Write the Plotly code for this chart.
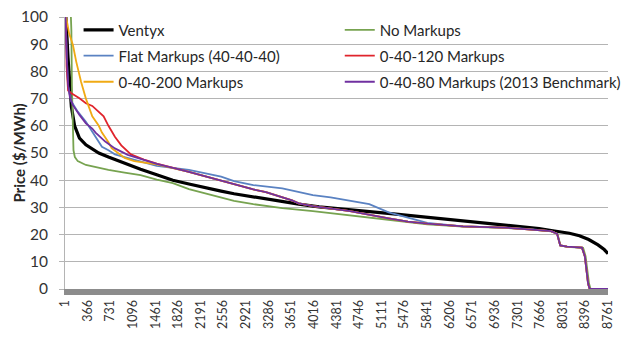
import plotly.graph_objects as go

# Hour of the year (sorted by price, highest first) and price in $/MWh
hours_ventyx = [1, 15, 50, 80, 104, 156, 234, 338, 441, 546, 702, 962, 1220, 1481, 1741,
                2000, 2260, 2520, 2728, 3039, 3400, 3772, 4100, 4500, 4900, 5300, 5700,
                6100, 6500, 6936, 7300, 7650, 7871, 8138, 8300, 8450, 8600, 8700, 8761]
price_ventyx = [130, 100, 85, 75, 67, 60, 55.5, 53, 51.5, 50, 48.5, 46.2, 44, 42, 40,
                38.6, 37.2, 36, 35, 33.8, 32.4, 31.2, 30.2, 29.4, 28.5, 27.6, 26.7,
                25.8, 25.0, 24.0, 23.2, 22.2, 21.4, 20.5, 19.6, 18.2, 16.2, 14.5, 13]

hours_none = [1, 95, 104, 112, 122, 138, 160, 207, 338, 546, 702, 962, 1220, 1481, 1741,
              2000, 2260, 2520, 2728, 3039, 3507, 4000, 4500, 4910, 5222, 5533, 5845,
              6422, 7092, 7500, 7843, 7945, 7970, 7995, 8100, 8360, 8400, 8430, 8455,
              8480, 8761]
price_none = [160, 104, 95, 75, 58, 51, 48.5, 47, 45.6, 44.5, 43.8, 42.8, 41.9, 40.2, 38.9,
              36.7, 35.2, 33.5, 32.4, 31.2, 29.7, 28.6, 27.3, 26.3, 25.4, 24.5, 23.8,
              22.9, 22.5, 21.9, 21.2, 20.3, 18.5, 16, 15.5, 15.1, 12, 6, 2,
              0, 0]

hours_flat = [1, 10, 30, 51, 104, 207, 338, 441, 546, 597, 702, 806, 962, 1220, 1481,
              2000, 2520, 2728, 3039, 3507, 4000, 4286, 4910, 5222, 5533, 5845, 6422,
              7092, 7500, 7843, 7940, 7965, 7990, 8100, 8341, 8388, 8419, 8440, 8465, 8761]
price_flat = [130, 100, 85, 74.4, 68.9, 65.2, 61.5, 58, 54.5, 52.3, 51, 49.5, 48.5, 46.8, 45.3,
              43.8, 41.3, 39.7, 38.2, 37, 34.5, 33.7, 31.2, 28.2, 26.2, 24.3, 23.0,
              22.6, 22, 21.3, 20.3, 18.5, 16, 15.6, 15.2, 12, 6, 2, 0, 0]

# Shared lower part of the markup scenarios (they run together past ~2000 h)
hours_shared = [2000, 2520, 2728, 3039, 3242, 3663, 3772, 4000, 4286, 4600, 5222, 5533,
                5845, 6422, 7092, 7500, 7843, 7940, 7965, 7990, 8100, 8341, 8388, 8419,
                8440, 8465, 8761]
price_shared = [43.1, 40, 38.6, 36.6, 35.6, 32.6, 31.5, 30.5, 29.7, 28.6, 26, 24.8,
                24.0, 23.0, 22.6, 22, 21.3, 20.3, 18.5, 16, 15.6, 15.2, 12, 6,
                2, 0, 0]

hours_120_top = [1, 10, 26, 51, 104, 234, 338, 441, 546, 624, 702, 806, 909, 1065, 1274, 1481]
price_120_top = [130, 100, 82, 73, 72, 70.1, 68.3, 67.3, 65, 63.5, 60, 56, 52.8, 49.5, 47.6, 46.1]

hours_200_top = [1, 20, 67, 129, 182, 260, 338, 441, 546, 597, 702, 753, 857, 962, 1118, 1481]
price_200_top = [130, 100, 94, 89.7, 83.6, 76.2, 70, 63.5, 60, 57.5, 54, 51.8, 50, 48.2, 47, 45.8]

hours_80_top = [1, 10, 30, 51, 80, 129, 234, 338, 441, 494, 650, 806, 1013, 1274, 1481]
price_80_top = [130, 100, 85, 75, 70.5, 67.6, 64, 60.9, 59, 57.5, 54.2, 51.7, 49.3, 47.5, 46]

tick_hours = list(range(1, 8762, 365))
tick_labels = [str(h) for h in tick_hours]

series = [
    ("Ventyx", hours_ventyx, price_ventyx, "#000000", 3.2),
    ("No Markups", hours_none, price_none, "#77a350", 1.8),
    ("Flat Markups (40-40-40)", hours_flat, price_flat, "#5a82c2", 1.8),
    ("0-40-120 Markups", hours_120_top + hours_shared, price_120_top + price_shared, "#e0242c", 1.8),
    ("0-40-200 Markups", hours_200_top + hours_shared, price_200_top + price_shared, "#f0aa14", 1.8),
    ("0-40-80 Markups (2013 Benchmark)", hours_80_top + hours_shared, price_80_top + price_shared, "#7030a0", 1.8),
]

# Legend slots: two columns, three rows
legend_slots = [(0.025, 0.952), (0.506, 0.952),
                (0.025, 0.857), (0.506, 0.857),
                (0.025, 0.761), (0.506, 0.761)]

fig = go.Figure()
layout_legends = {}
for i, (name, hx, py, color, width) in enumerate(series):
    key = "legend" if i == 0 else f"legend{i + 1}"
    fig.add_trace(go.Scatter(x=hx, y=py, mode="lines", name=name,
                             line=dict(color=color, width=width),
                             legend=key))
    lx, ly = legend_slots[i]
    layout_legends[key] = dict(x=lx, y=ly, xanchor="left", yanchor="middle",
                               bgcolor="rgba(0,0,0,0)", borderwidth=0,
                               font=dict(family="Lato", size=15, color="#262626"))

fig.update_layout(
    width=631, height=337,
    margin=dict(l=65, r=5, t=17, b=48),
    plot_bgcolor="white", paper_bgcolor="white",
    font=dict(family="Lato", color="#333333", size=14),
    showlegend=True,
    **layout_legends,
)

# Vertical axis title, placed as rotated text left of the tick labels
fig.add_annotation(text="<b>Price ($/MWh)</b>", xref="paper", yref="paper",
                   x=(17 - 65) / 561, y=0.5, xanchor="center", yanchor="middle",
                   textangle=-90, showarrow=False,
                   font=dict(family="Lato", size=15, color="#262626"))

fig.update_xaxes(range=[1, 8761], tickvals=tick_hours, ticktext=tick_labels,
                 tickangle=-90, showgrid=False, zeroline=False,
                 showline=True, linecolor="#8c8c8c", linewidth=6,
                 ticks="", ticklabeloverflow="allow",
                 tickfont=dict(size=12.5, color="#333333"))
fig.update_yaxes(range=[0, 100], dtick=10, showgrid=True, gridcolor="#b4b4b4",
                 gridwidth=1, zeroline=False, showline=True, linecolor="#b4b4b4",
                 linewidth=1, ticks="outside", ticklen=5, tickcolor="#b4b4b4",
                 tickfont=dict(size=15.5, color="#333333"), ticklabelstandoff=8)

fig.write_html("out.html")
